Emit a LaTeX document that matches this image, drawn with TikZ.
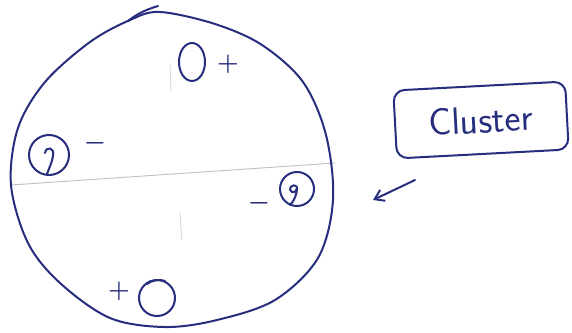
\documentclass[tikz,border=0pt]{standalone}
\usetikzlibrary{arrows.meta,shapes.geometric}
\definecolor{ink}{RGB}{38,46,125}
\definecolor{faint}{RGB}{190,192,200}
\begin{document}
\begin{tikzpicture}[x=1pt,y=-1pt,
  inkline/.style={draw=ink, line width=2pt, line cap=round, line join=round},
  faintline/.style={draw=faint, line width=0.9pt, line cap=round},
  particle/.style={circle, inkline, inner sep=0pt},
  sign/.style={text=ink, inner sep=0pt, font=\boldmath\fontsize{28}{28}\selectfont},
  label/.style={inkline, rounded corners=11pt, minimum width=172pt, minimum height=68pt, rotate=3,
    text=ink, font=\sffamily\fontsize{38}{38}\selectfont}]
\useasboundingbox (0,0) rectangle (572,332);
\fill[white] (0,0) rectangle (572,332);
% faint background marks
\draw[faintline] (11,185) -- (335,163);
\draw[faintline, draw=faint!60] (170,63) -- (171,92);
\draw[faintline, draw=faint!60] (180,213) -- (182,240);
% cluster outline
\draw[inkline] plot[smooth cycle, tension=0.55] coordinates {
  (160,12) (215,24) (262,45) (303,82) (326,135) (333,200) (318,258)
  (275,300) (217,320) (165,327) (110,318) (60,283) (28,243) (11,185)
  (18,128) (45,82) (90,42) (130,20)};
\draw[inkline] (128,21) .. controls (138,13) and (148,9) .. (158,6);
% particles
\node[ellipse, inkline, inner sep=0pt, minimum width=26pt, minimum height=38pt] (p1) at (192,62) {};
\node[sign] (s1) at (228,64) {$+$};
\node[particle, minimum size=40pt] (p2) at (49,155) {};
\node[sign] (s2) at (95,143) {$-$};
\draw[inkline] (45,153) .. controls (46,146) and (55,147) .. (53,156)
  .. controls (52,163) and (49,168) .. (47,174);
\node[particle, minimum size=34pt] (p3) at (297,189) {};
\node[sign] (s3) at (259,203) {$-$};
\draw[inkline] (297,187) .. controls (292,182) and (287,190) .. (292,192)
  .. controls (295,193) and (297,190) .. (297,187)
  .. controls (297,195) and (294,201) .. (290,205);
\node[particle, minimum size=36pt] (p4) at (157,298) {};
\node[sign] (s4) at (119,291) {$+$};
\draw[inkline] (147,284) .. controls (152,280) and (160,279) .. (165,281);
% label and arrow
\node[label] (cl) at (481,120) {Cluster};
\coordinate (arrS) at (415,180);
\coordinate (arrE) at (373,200);
\draw[inkline, -{Straight Barb[length=9pt,width=12pt]}] (arrS) -- (arrE);
\end{tikzpicture}
\end{document}
